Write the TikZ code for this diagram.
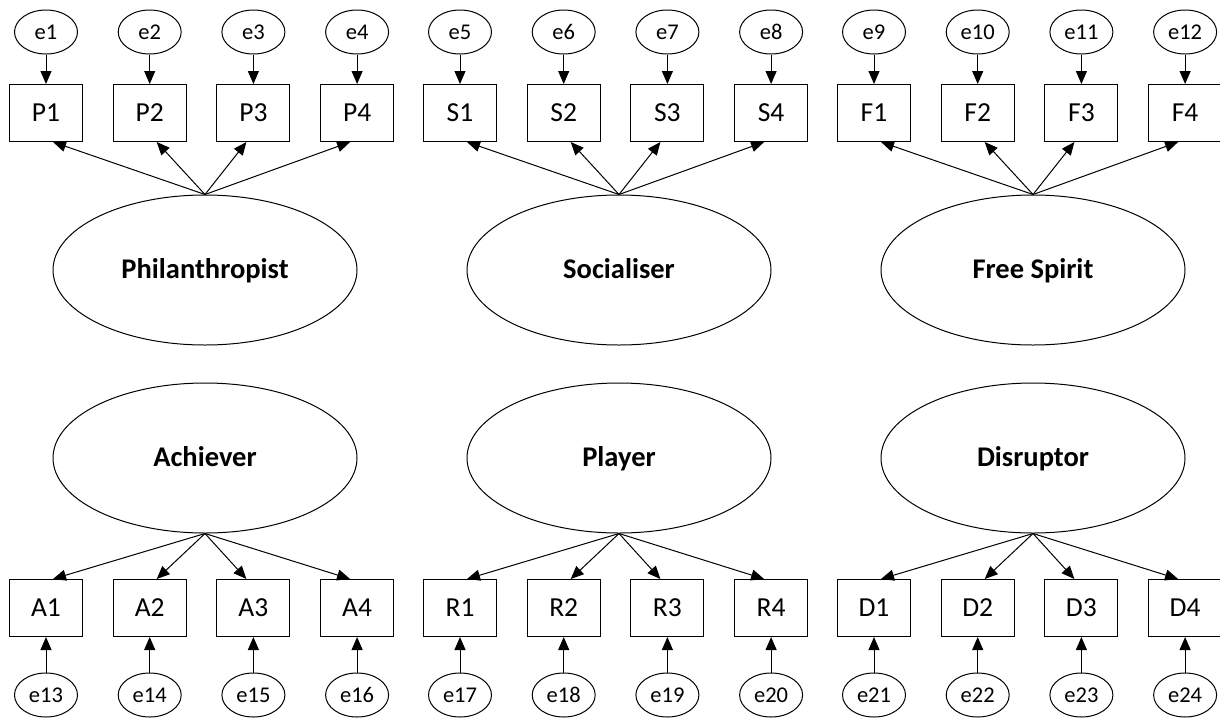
\documentclass[tikz,border=0pt]{standalone}
\usepackage{fontspec}
\setmainfont{Carlito}
\usetikzlibrary{shapes.geometric,arrows.meta}

\begin{document}
\begin{tikzpicture}[x=1pt,y=-1pt,line width=1pt,
  item/.style={draw,rectangle,minimum width=73pt,minimum height=57pt,inner sep=0pt,font=\fontsize{27.5}{32}\selectfont},
  err/.style={draw,ellipse,minimum width=63pt,minimum height=44pt,inner sep=0pt,font=\fontsize{22.5}{27}\selectfont},
  factor/.style={draw,ellipse,minimum width=304pt,minimum height=150pt,inner sep=0pt,font=\bfseries\fontsize{28.5}{33}\selectfont,text height=17pt,text depth=0pt},
  load/.style={-{Triangle[length=13pt,width=11pt]}}]
\useasboundingbox (0,0) rectangle (1220,718);
% latent factors
\node [factor] (Phil) at (205,270) {Philanthropist};
\node [factor] (Soc) at (619,270) {Socialiser};
\node [factor] (Free) at (1033,270) {Free Spirit};
\node [factor] (Ach) at (205,458) {Achiever};
\node [factor] (Play) at (619,458) {Player};
\node [factor] (Dis) at (1033,458) {Disruptor};
% top indicators
\foreach \g/\f/\L/\n in {0/Phil/P/0,1/Soc/S/4,2/Free/F/8}{
  \foreach \i in {1,...,4}{
    \pgfmathsetmacro\px{46+414*\g+103.7*(\i-1)}
    \pgfmathtruncatemacro\k{\n+\i}
    \pgfmathsetmacro\s{\i<3 ? 7 : -7}
    \node [item] (\L\i) at (\px,113) {\L\i};
    \node [err] (e\k) at (\px,32) {e\k};
    \draw[load] (e\k) -- (\L\i);
    \draw[load] (\f.north) -- ([xshift=\s pt]\L\i.south);
  }
}
% bottom indicators
\foreach \g/\f/\L/\n in {0/Ach/A/12,1/Play/R/16,2/Dis/D/20}{
  \foreach \i in {1,...,4}{
    \pgfmathsetmacro\px{46+414*\g+103.7*(\i-1)}
    \pgfmathtruncatemacro\k{\n+\i}
    \pgfmathsetmacro\s{\i<3 ? 7 : -7}
    \node [item] (\L\i) at (\px,608) {\L\i};
    \node [err] (e\k) at (\px,695) {e\k};
    \draw[load] (e\k) -- (\L\i);
    \draw[load] (\f.south) -- ([xshift=\s pt]\L\i.north);
  }
}
\end{tikzpicture}
\end{document}
